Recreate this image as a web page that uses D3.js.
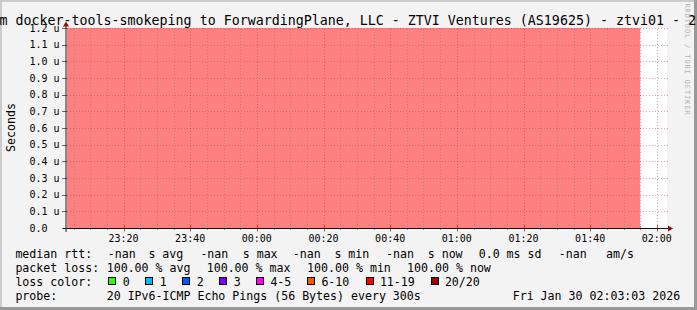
<!DOCTYPE html>
<html><head><meta charset="utf-8">
<script src="https://cdn.jsdelivr.net/npm/d3@7"></script>
<style>
html,body{margin:0;padding:0;background:#f3f3f3;}
svg{display:block;font-family:"DejaVu Sans Mono",monospace;}
</style>
</head><body>
<svg id="chart" width="697" height="310"></svg>
<script>
// ---------------- data ----------------
const titleText = "m docker-tools-smokeping to ForwardingPlane, LLC - ZTVI Ventures (AS19625) - ztvi01 - 2";
const yAxisTitle = "Seconds";
const timeStart = "2026-01-29T23:03:03Z";
const timeEnd = "2026-01-30T02:03:03Z";
const yTickValues = [0.0, 0.1, 0.2, 0.3, 0.4, 0.5, 0.6, 0.7, 0.8, 0.9, 1.0, 1.1, 1.2]; // micro-seconds
const yMaxValue = 1.2;
const lossPeriodStart = ["2026-01-29T23:00:00Z"];
const lossPeriodEnd = ["2026-01-30T01:55:00Z"];
const lossPeriodPercent = [100];
const medianRttRow = ["median rtt:", "-nan", "s avg", "-nan", "s max", "-nan", "s min", "-nan", "s now", "0.0 ms sd", "-nan", "am/s"];
const packetLossRow = ["packet loss:", "100.00 % avg", "100.00 % max", "100.00 % min", "100.00 % now"];
const lossColorTitle = "loss color:";
const lossColorLabels = ["0", "1", "2", "3", "4-5", "6-10", "11-19", "20/20"];
const lossColorValues = ["#26ff00", "#00b8ff", "#0059ff", "#7e00ff", "#ff00ff", "#ff5500", "#ff0000", "#a10000"];
const probeRow = ["probe:", "20 IPv6-ICMP Echo Pings (56 Bytes) every 300s", "Fri Jan 30 02:03:03 2026"];
const watermarkText = "RRDTOOL / TOBI OETIKER";

// ---------------- layout ----------------
const W = 697, H = 310;
const plot = {x0: 67, x1: 667, y0: 228, y1: 28};
const legendX = {
  row1: [16, 108.3, 149, 201, 243.3, 293.3, 335, 386.7, 428.3, 479.3, 559.3, 606.7],
  row2: [16, 107.3, 207.3, 307.7, 407.7],
  boxes: [108.3, 145.3, 182.3, 219.3, 256, 307, 365.5, 430.5],
  row4: [16, 107.3, 513.3]
};
const legendY = [258, 272, 286, 300];

const svg = d3.select("#chart");

// background and 3D border
svg.append("rect").attr("width", W).attr("height", H).attr("fill", "#f3f3f3");
svg.append("path").attr("d", `M0,0H${W}V2H2V${H}H0Z`).attr("fill", "#cbcbcb");
svg.append("path").attr("d", `M${W},0V${H}H0V${H-3}H${W-3}V0Z`).attr("fill", "#999999");

const x = d3.scaleUtc().domain([new Date(timeStart), new Date(timeEnd)]).range([plot.x0, plot.x1]);
const y = d3.scaleLinear().domain([0, yMaxValue]).range([plot.y0, plot.y1]);

// canvas
svg.append("rect").attr("x", plot.x0).attr("y", plot.y1)
  .attr("width", plot.x1 - plot.x0).attr("height", plot.y0 - plot.y1).attr("fill", "#ffffff");

// loss area (unknown rtt, 100% loss -> full height)
const periods = lossPeriodStart.map((s, i) => ({s: new Date(s), e: new Date(lossPeriodEnd[i]), p: lossPeriodPercent[i]}));
const [d0, d1] = x.domain();
svg.append("g").selectAll("rect").data(periods).join("rect")
  .attr("x", d => x(d.s < d0 ? d0 : d.s))
  .attr("width", d => x(d.e > d1 ? d1 : d.e) - x(d.s < d0 ? d0 : d.s))
  .attr("y", y(yMaxValue))
  .attr("height", y(0) - y(yMaxValue))
  .attr("fill", "#ff8080")
  .attr("fill-opacity", d => d.p / 100);

// grid
const majorTicks = x.ticks(d3.utcMinute.every(20));
const minorTicks = x.ticks(d3.utcMinute.every(5)).filter(t => t.getUTCMinutes() % 20 !== 0);
const grid = svg.append("g");
grid.selectAll(".minor").data(minorTicks).join("line")
  .attr("x1", d => Math.round(x(d)) + 0.5).attr("x2", d => Math.round(x(d)) + 0.5)
  .attr("y1", plot.y0).attr("y2", plot.y1)
  .attr("stroke", "rgba(120,120,120,0.45)").attr("stroke-dasharray", "1,2");
grid.selectAll(".major").data(majorTicks).join("line")
  .attr("x1", d => Math.round(x(d)) + 0.5).attr("x2", d => Math.round(x(d)) + 0.5)
  .attr("y1", plot.y0).attr("y2", plot.y1)
  .attr("stroke", "rgba(220,40,40,0.45)").attr("stroke-dasharray", "1,2");
grid.selectAll(".hmajor").data(yTickValues.filter(v => v > 0)).join("line")
  .attr("x1", plot.x0).attr("x2", plot.x1 + 2)
  .attr("y1", d => Math.round(y(d)) + 0.5).attr("y2", d => Math.round(y(d)) + 0.5)
  .attr("stroke", "rgba(190,60,60,0.45)").attr("stroke-dasharray", "1,2");

// tick marks
const tk = svg.append("g");
tk.selectAll(".ytk").data(yTickValues).join("line")
  .attr("x1", plot.x0 - 5).attr("x2", plot.x0)
  .attr("y1", d => Math.round(y(d)) + 0.5).attr("y2", d => Math.round(y(d)) + 0.5)
  .attr("stroke", "#666");
tk.selectAll(".xmin").data(minorTicks).join("line")
  .attr("x1", d => Math.round(x(d)) + 0.5).attr("x2", d => Math.round(x(d)) + 0.5)
  .attr("y1", plot.y0 - 2).attr("y2", plot.y0 + 2)
  .attr("stroke", "#999");
tk.selectAll(".xmaj").data(majorTicks).join("line")
  .attr("x1", d => Math.round(x(d)) + 0.5).attr("x2", d => Math.round(x(d)) + 0.5)
  .attr("y1", plot.y0 - 3).attr("y2", plot.y0 + 3.5)
  .attr("stroke", "#e04040");

// axes
svg.append("line").attr("x1", plot.x0 - 4).attr("x2", plot.x1 + 4)
  .attr("y1", plot.y0 + 0.5).attr("y2", plot.y0 + 0.5).attr("stroke", "#111");
svg.append("line").attr("x1", plot.x0 - 1).attr("x2", plot.x0 - 1)
  .attr("y1", plot.y0 + 4).attr("y2", plot.y1 - 4).attr("stroke", "#222");
// arrows
svg.append("path").attr("d", `M${plot.x0 - 1},${plot.y1 - 6.5}L${plot.x0 + 2},${plot.y1 - 1.5}L${plot.x0 - 4},${plot.y1 - 1.5}Z`).attr("fill", "#8b1010");
svg.append("path").attr("d", `M${plot.x1 + 6},${plot.y0 + 0.5}L${plot.x1 + 1},${plot.y0 - 2.5}L${plot.x1 + 1},${plot.y0 + 3.5}Z`).attr("fill", "#8b1010");

// axis labels (via d3 scales)
const fmtY = v => v === 0 ? d3.format(".1f")(v) : d3.format(".1f")(v) + " u";
svg.append("g").selectAll("text").data(yTickValues).join("text")
  .attr("x", 29.5).attr("y", d => y(d) + 3.7)
  .attr("font-size", "10px").attr("fill", "#000")
  .text(fmtY);
const fmtX = d3.utcFormat("%H:%M");
svg.append("g").selectAll("text").data(majorTicks).join("text")
  .attr("x", d => x(d)).attr("y", 241.5).attr("text-anchor", "middle")
  .attr("font-size", "10px").attr("fill", "#000")
  .text(fmtX);

// y axis title
svg.append("text").attr("transform", "translate(14.8,127.5) rotate(-90)")
  .attr("text-anchor", "middle").attr("font-size", "11.6px").text(yAxisTitle);

// title
svg.append("text").attr("x", -0.5).attr("y", 24.5).attr("font-size", "13.3px").text(titleText);

// watermark
svg.append("text").attr("transform", "translate(685.3,3.5) rotate(90)")
  .attr("font-size", "7px").attr("fill", "#b4b4b4")
  .attr("textLength", 111).attr("lengthAdjust", "spacing").text(watermarkText);

// legend
const lg = svg.append("g").attr("font-size", "11.6px").attr("fill", "#000");
const rowText = (arr, xs, yb) => lg.append("g").selectAll("text").data(arr).join("text")
  .attr("x", (d, i) => xs[i] - 0.6).attr("y", yb).attr("xml:space", "preserve").text(d => d);
rowText(medianRttRow, legendX.row1, legendY[0]);
rowText(packetLossRow, legendX.row2, legendY[1]);
lg.append("text").attr("x", 16 - 0.6).attr("y", legendY[2]).text(lossColorTitle);
const items = lossColorLabels.map((l, i) => ({l, c: lossColorValues[i], bx: legendX.boxes[i]}));
const it = lg.append("g").selectAll("g").data(items).join("g");
it.append("rect").attr("x", d => Math.round(d.bx) + 0.5).attr("y", 277.5).attr("width", 7).attr("height", 7)
  .attr("fill", d => d.c).attr("stroke", "#000");
it.append("text").attr("x", d => d.bx + 15 - 0.6).attr("y", legendY[2]).text(d => d.l);
rowText(probeRow, legendX.row4, legendY[3]);
</script>
</body></html>
